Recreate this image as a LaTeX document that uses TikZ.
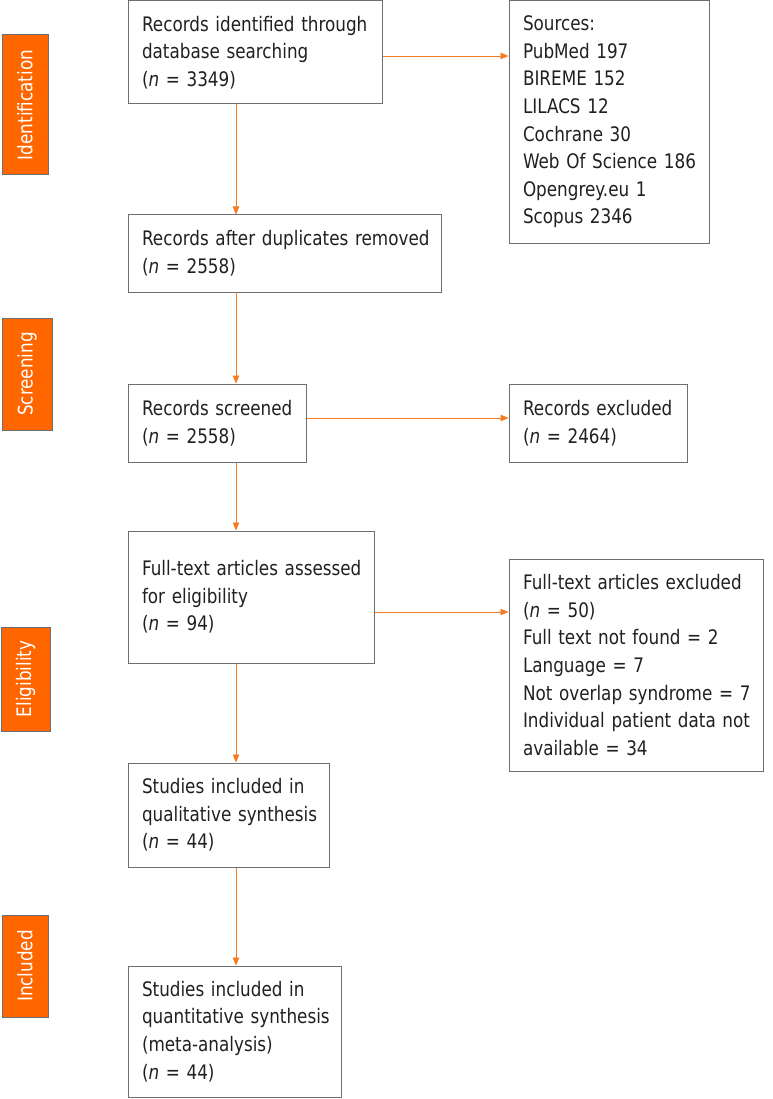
\documentclass[tikz,border=0pt]{standalone}
\usepackage{fontspec}
\setmainfont{DejaVu Sans}[FakeStretch=0.84]
\usetikzlibrary{arrows.meta}
\definecolor{orng}{HTML}{FF6600}
\definecolor{bordr}{HTML}{6D6E71}
\definecolor{txt}{HTML}{231F20}
\definecolor{arrc}{HTML}{F47B20}
\newcommand\nbl[1]{\mbox{#1}}
\begin{document}
\begin{tikzpicture}[x=1pt,y=-1pt,
  box/.style={draw=bordr, line width=1pt, rectangle, inner xsep=14pt, inner ysep=0pt,
    align=left, text=txt, font=\fontsize{20}{27.6}\selectfont},
  phase/.style={draw=bordr, fill=orng, line width=1pt, rectangle, inner sep=0pt,
    text=white, font=\fontsize{20}{23}\selectfont},
  arr/.style={draw=arrc, line width=0.9pt, -{Triangle[length=8pt,width=6.5pt]}}]
\useasboundingbox (0,0) rectangle (772,1099);
% phase labels
\node[phase, minimum width=46, minimum height=140] (pid) at (25,105) {\rotatebox{90}{Identification}};
\node[phase, minimum width=50, minimum height=112] (psc) at (27,374) {\rotatebox{90}{Screening}};
\node[phase, minimum width=49, minimum height=104] (pel) at (25.5,679) {\rotatebox{90}{Eligibility}};
\node[phase, minimum width=46, minimum height=102] (pin) at (25,966) {\rotatebox{90}{Included}};
% boxes
\node[box, minimum width=254, minimum height=103, text width=226] (b1) at (255,52.5)
  {\nbl{Records identified through}\\\nbl{database searching}\\\nbl{(\textit{n} = 3349)}};
\node[box, minimum width=200, minimum height=242, text width=172] (src) at (609,122)
  {\nbl{Sources:}\\\nbl{PubMed 197}\\\nbl{BIREME 152}\\\nbl{LILACS 12}\\\nbl{Cochrane 30}\\\nbl{Web Of Science 186}\\\nbl{Opengrey.eu 1}\\\nbl{Scopus 2346}};
\node[box, minimum width=313, minimum height=77, text width=285] (b2) at (284.5,253.5)
  {\nbl{Records after duplicates removed}\\\nbl{(\textit{n} = 2558)}};
\node[box, minimum width=178, minimum height=78, text width=150] (b3) at (217,423)
  {\nbl{Records screened}\\\nbl{(\textit{n} = 2558)}};
\node[box, minimum width=178, minimum height=78, text width=150] (exc) at (598,423)
  {\nbl{Records excluded}\\\nbl{(\textit{n} = 2464)}};
\node[box, minimum width=246, minimum height=132, text width=218] (b4) at (251,597)
  {\nbl{Full-text articles assessed}\\\nbl{for eligibility}\\\nbl{(\textit{n} = 94)}};
\node[box, minimum width=254, minimum height=212, text width=226] (ftx) at (636,665)
  {\nbl{Full-text articles excluded}\\\nbl{(\textit{n} = 50)}\\\nbl{Full text not found = 2}\\\nbl{Language = 7}\\\nbl{Not overlap syndrome = 7}\\\nbl{Individual patient data not}\\\nbl{available = 34}};
\node[box, minimum width=201, minimum height=104, text width=173] (b5) at (228.5,815)
  {\nbl{Studies included in}\\\nbl{qualitative synthesis}\\\nbl{(\textit{n} = 44)}};
\node[box, minimum width=213, minimum height=131, text width=185] (b6) at (234.5,1031.5)
  {\nbl{Studies included in}\\\nbl{quantitative synthesis}\\\nbl{(meta-analysis)}\\\nbl{(\textit{n} = 44)}};
% connectors
\coordinate (spine) at (236,0);
\coordinate (h1) at (0,56);
\coordinate (h2) at (0,418);
\coordinate (h3) at (0,612);
\draw[arr] (b1.south -| spine) -- (b2.north -| spine);
\draw[arr] (b2.south -| spine) -- (b3.north -| spine);
\draw[arr] (b3.south -| spine) -- (b4.north -| spine);
\draw[arr] (b4.south -| spine) -- (b5.north -| spine);
\draw[arr] (b5.south -| spine) -- (b6.north -| spine);
\draw[arr] (b1.east |- h1) -- (src.west |- h1);
\draw[arr] (b3.east |- h2) -- (exc.west |- h2);
\draw[arr] (b4.east |- h3) -- (ftx.west |- h3);
\end{tikzpicture}
\end{document}
